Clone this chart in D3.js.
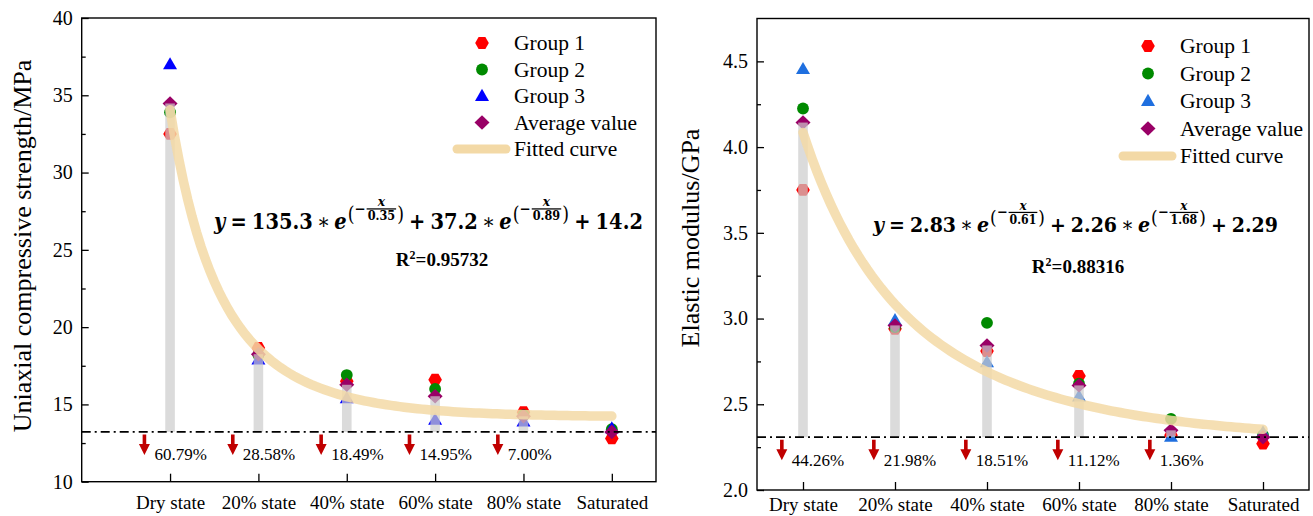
<!DOCTYPE html>
<html>
<head>
<meta charset="utf-8">
<script src="https://cdn.jsdelivr.net/npm/d3@7"></script>
<style>
  body { margin: 0; background: #fff; }
  svg { display: block; }
</style>
</head>
<body>
<svg id="chart" width="1313" height="516"></svg>
<script>
// ---- data ---------------------------------------------------------------
const categories = ["Dry state", "20% state", "40% state", "60% state", "80% state", "Saturated"];

// Uniaxial compressive strength (MPa)
const ucsGroup1  = [32.5, 18.65, 16.5, 16.6, 14.5, 12.8];
const ucsGroup2  = [33.9, 18.2, 16.9, 16.0, 14.3, 13.4];
const ucsGroup3  = [37.0, 17.9, 15.4, 14.0, 13.9, 13.45];
const ucsAverage = [34.47, 18.25, 16.27, 15.53, 14.23, 13.22];
const ucsDrop    = ["60.79%", "28.58%", "18.49%", "14.95%", "7.00%"];
const ucsTicks   = [10, 15, 20, 25, 30, 35, 40];
const ucsMinor   = [12.5, 17.5, 22.5, 27.5, 32.5, 37.5];
const ucsFit     = { a1: 135.3, t1: 0.35, a2: 37.2, t2: 0.89, y0: 14.2, r2: "0.95732" };

// Elastic modulus (GPa)
const emGroup1  = [3.75, 2.94, 2.81, 2.665, 2.32, 2.27];
const emGroup2  = [4.225, 2.95, 2.975, 2.62, 2.415, 2.32];
const emGroup3  = [4.455, 2.99, 2.745, 2.545, 2.31, 2.335];
const emAverage = [4.143, 2.96, 2.843, 2.61, 2.348, 2.308];
const emDrop    = ["44.26%", "21.98%", "18.51%", "11.12%", "1.36%"];
const emTicks   = [2.0, 2.5, 3.0, 3.5, 4.0, 4.5];
const emMinor   = [2.25, 2.75, 3.25, 3.75, 4.25];
const emFit     = { a1: 2.83, t1: 0.61, a2: 2.26, t2: 1.68, y0: 2.29, r2: "0.88316" };

// ---- drawing ------------------------------------------------------------
const FONT = "'Liberation Serif', 'Times New Roman', serif";
const MATH = "'DejaVu Serif', serif";
const svg = d3.select("#chart");

// marker shapes
const hexPath = (() => {
  const r = 6.8;
  return "M" + d3.range(6).map(k => {
    const a = Math.PI / 3 * k;
    return [r * Math.cos(a), r * Math.sin(a)].join(",");
  }).join("L") + "Z";
})();
const circlePath   = d3.symbol(d3.symbolCircle, 110)();
const trianglePath = "M0,-7.2L7,5L-7,5Z";
const diamondPath  = "M0,-7.2L7.5,0L0,7.2L-7.5,0Z";

const RED = "#ff0000", GREEN = "#008a00", PURPLE = "#990066", CURVE = "#f3d9a6";

// fitted equation, laid out piece by piece and fitted between x0 and x1
function drawFit(g, fit, x0, x1, baseline) {
  const eq = g.append("g").attr("font-family", MATH).attr("font-weight", "bold").attr("fill", "#000");
  let cursor = 0;
  const big = 19, small = 11;
  function word(t, opt = {}) {
    const el = eq.append("text")
      .attr("x", cursor).attr("y", opt.y || 0)
      .attr("font-size", opt.size || big)
      .attr("font-weight", opt.weight || "bold")
      .attr("font-style", opt.italic ? "italic" : "normal")
      .text(t);
    cursor += el.node().getComputedTextLength() + (opt.gap || 0);
  }
  function gap(w) { cursor += w; }
  function exponent(tau) {
    word("(", { size: 17, y: -7, weight: "normal" });
    word("−", { size: 13, y: -13 });
    const fx = cursor + 1;
    const num = eq.append("text").attr("font-size", small + 1).attr("font-style", "italic")
      .attr("text-anchor", "middle").attr("y", -20).text("x");
    const den = eq.append("text").attr("font-size", small)
      .attr("text-anchor", "middle").attr("y", -7.5).text(tau.toFixed(2));
    const w = Math.max(num.node().getComputedTextLength(), den.node().getComputedTextLength()) + 2;
    num.attr("x", fx + w / 2);
    den.attr("x", fx + w / 2);
    eq.append("line").attr("x1", fx).attr("x2", fx + w).attr("y1", -17.5).attr("y2", -17.5)
      .attr("stroke", "#000").attr("stroke-width", 1.1);
    cursor = fx + w + 1;
    word(")", { size: 17, y: -7, weight: "normal" });
  }
  word("y", { italic: true }); gap(5);
  word("="); gap(5);
  word(String(fit.a1)); gap(4);
  word("∗", { weight: "normal" }); gap(4);
  word("e", { italic: true, gap: 1 });
  exponent(fit.t1); gap(5);
  word("+"); gap(5);
  word(String(fit.a2)); gap(4);
  word("∗", { weight: "normal" }); gap(4);
  word("e", { italic: true, gap: 1 });
  exponent(fit.t2); gap(5);
  word("+"); gap(5);
  word(String(fit.y0));
  const s = (x1 - x0) / cursor;
  eq.attr("transform", `translate(${x0},${baseline}) scale(${s},${s * 1.12})`);
}

function panel(c) {
  const g = svg.append("g");
  const xs = d3.scaleLinear().domain(c.xDomain).range([c.left, c.right]);
  const ys = d3.scaleLinear().domain(c.yDomain).range([c.bottom, c.top]);
  const cx = i => xs(i + 1);
  const base = c.average[c.average.length - 1];

  // measured points
  const series = [
    { vals: c.g1, d: hexPath, fill: RED },
    { vals: c.g2, d: circlePath, fill: GREEN },
    { vals: c.g3, d: trianglePath, fill: c.blue },
    { vals: c.average, d: diamondPath, fill: PURPLE }
  ];
  series.forEach(s => {
    g.append("g").selectAll("path").data(s.vals).join("path")
      .attr("d", s.d).attr("fill", s.fill)
      .attr("transform", (v, i) => `translate(${cx(i)},${ys(v)})`);
  });

  // grey columns from the saturated level up to each average
  g.append("g").selectAll("rect").data(c.average.slice(0, -1)).join("rect")
    .attr("x", (v, i) => cx(i) - 4.8).attr("width", 9.6)
    .attr("y", v => ys(v)).attr("height", v => ys(base) - ys(v))
    .attr("fill", "#cccccc").attr("fill-opacity", 0.7);

  // fitted curve
  const f = x => c.fit.a1 * Math.exp(-x / c.fit.t1) + c.fit.a2 * Math.exp(-x / c.fit.t2) + c.fit.y0;
  const xsFit = d3.range(1, 6.0001, 0.05);
  g.append("path")
    .attr("d", d3.line().x(x => xs(x)).y(x => ys(f(x)))(xsFit))
    .attr("fill", "none").attr("stroke", CURVE).attr("stroke-opacity", 0.85)
    .attr("stroke-width", 9.5).attr("stroke-linecap", "round");

  // saturated reference line
  g.append("line").attr("x1", c.left).attr("x2", c.right)
    .attr("y1", ys(base)).attr("y2", ys(base))
    .attr("stroke", "#000").attr("stroke-width", 1.7).attr("stroke-dasharray", "9,4,2,4");

  // reduction arrows and labels
  const by = ys(base);
  const arr = g.append("g").selectAll("g").data(c.drops).join("g")
    .attr("transform", (d, i) => `translate(${xs(i + 1 + c.arrowDx)},${by})`);
  arr.append("path")
    .attr("d", "M-1.8,2.5L1.8,2.5L1.8,12L5.5,12L0,23L-5.5,12L-1.8,12Z")
    .attr("fill", "#c00000");
  arr.append("text").attr("x", 10).attr("y", 28.5)
    .attr("font-family", FONT).attr("font-size", 17).attr("fill", "#000")
    .text(d => d);

  // axes
  const yAxis = g.append("g").attr("transform", `translate(${c.left},0)`)
    .call(d3.axisLeft(ys).tickValues(c.ticks).tickFormat(c.fmt).tickSize(-7).tickPadding(9));
  g.append("g").attr("transform", `translate(${c.left},0)`)
    .call(d3.axisLeft(ys).tickValues(c.minor).tickFormat("").tickSize(-4));
  const xAxis = g.append("g").attr("transform", `translate(0,${c.bottom})`)
    .call(d3.axisBottom(xs).tickValues(d3.range(1, 7)).tickFormat(d => categories[d - 1]).tickSize(-8));
  g.selectAll(".domain").remove();
  g.selectAll(".tick line").attr("stroke", "#000").attr("stroke-width", 1.3);
  yAxis.selectAll("text").attr("font-family", FONT).attr("font-size", 20).attr("fill", "#000");
  xAxis.selectAll("text").attr("font-family", FONT).attr("font-size", 19).attr("fill", "#000")
    .attr("dy", 0).attr("y", c.labelY - c.bottom);

  // frame
  g.append("rect").attr("x", c.left).attr("y", c.top)
    .attr("width", c.right - c.left).attr("height", c.bottom - c.top)
    .attr("fill", "none").attr("stroke", "#000").attr("stroke-width", 1.4);

  // axis title
  g.append("text")
    .attr("transform", `translate(${c.titleX},${c.titleY}) rotate(-90)`)
    .attr("text-anchor", "middle").attr("font-family", FONT).attr("font-size", 26)
    .attr("fill", "#000").text(c.title);

  // legend
  const leg = g.append("g").attr("font-family", FONT).attr("font-size", 21.5);
  const items = [
    { d: hexPath, fill: RED, label: "Group 1" },
    { d: circlePath, fill: GREEN, label: "Group 2" },
    { d: trianglePath, fill: c.blue, label: "Group 3" },
    { d: diamondPath, fill: PURPLE, label: "Average value" },
    { line: true, label: "Fitted curve" }
  ];
  items.forEach((it, k) => {
    const yy = c.legY + k * c.legStep;
    if (it.line) {
      leg.append("line").attr("x1", c.legX - 25).attr("x2", c.legX + 24)
        .attr("y1", yy).attr("y2", yy).attr("stroke", CURVE)
        .attr("stroke-width", 9).attr("stroke-linecap", "round");
    } else {
      leg.append("path").attr("d", it.d).attr("fill", it.fill)
        .attr("transform", `translate(${c.legX},${yy})`);
    }
    leg.append("text").attr("x", c.legX + 32).attr("y", yy + 7).attr("fill", "#000").text(it.label);
  });

  // fit equation and goodness of fit
  drawFit(g, c.fit, c.eqX0, c.eqX1, c.eqBase);
  const r2 = g.append("text").attr("x", c.r2X).attr("y", c.r2Base)
    .attr("text-anchor", "middle").attr("font-family", FONT).attr("font-weight", "bold")
    .attr("font-size", 19).attr("fill", "#000");
  r2.append("tspan").text("R");
  r2.append("tspan").attr("font-size", 12).attr("dy", -7.5).text("2");
  r2.append("tspan").attr("dy", 7.5).text("=" + c.fit.r2);
}

panel({
  left: 81.7, right: 656, top: 18, bottom: 481.7,
  xDomain: [0, 6.5], yDomain: [10, 40],
  ticks: ucsTicks, minor: ucsMinor, fmt: d3.format("d"),
  g1: ucsGroup1, g2: ucsGroup2, g3: ucsGroup3, average: ucsAverage,
  drops: ucsDrop, arrowDx: -0.29, fit: ucsFit, blue: "#0000ff",
  labelY: 509, title: "Uniaxial compressive strength/MPa", titleX: 31, titleY: 246,
  legX: 482, legY: 43, legStep: 26.5,
  eqX0: 214, eqX1: 643, eqBase: 229, r2X: 442, r2Base: 266
});

panel({
  left: 757, right: 1309, top: 18.5, bottom: 490,
  xDomain: [0.5, 6.5], yDomain: [2, 4.75],
  ticks: emTicks, minor: emMinor, fmt: d3.format(".1f"),
  g1: emGroup1, g2: emGroup2, g3: emGroup3, average: emAverage,
  drops: emDrop, arrowDx: -0.23, fit: emFit, blue: "#1f6fdf",
  labelY: 511, title: "Elastic modulus/GPa", titleX: 699, titleY: 238,
  legX: 1148, legY: 46, legStep: 27.5,
  eqX0: 873, eqX1: 1278, eqBase: 232, r2X: 1078, r2Base: 273
});
</script>
</body>
</html>
